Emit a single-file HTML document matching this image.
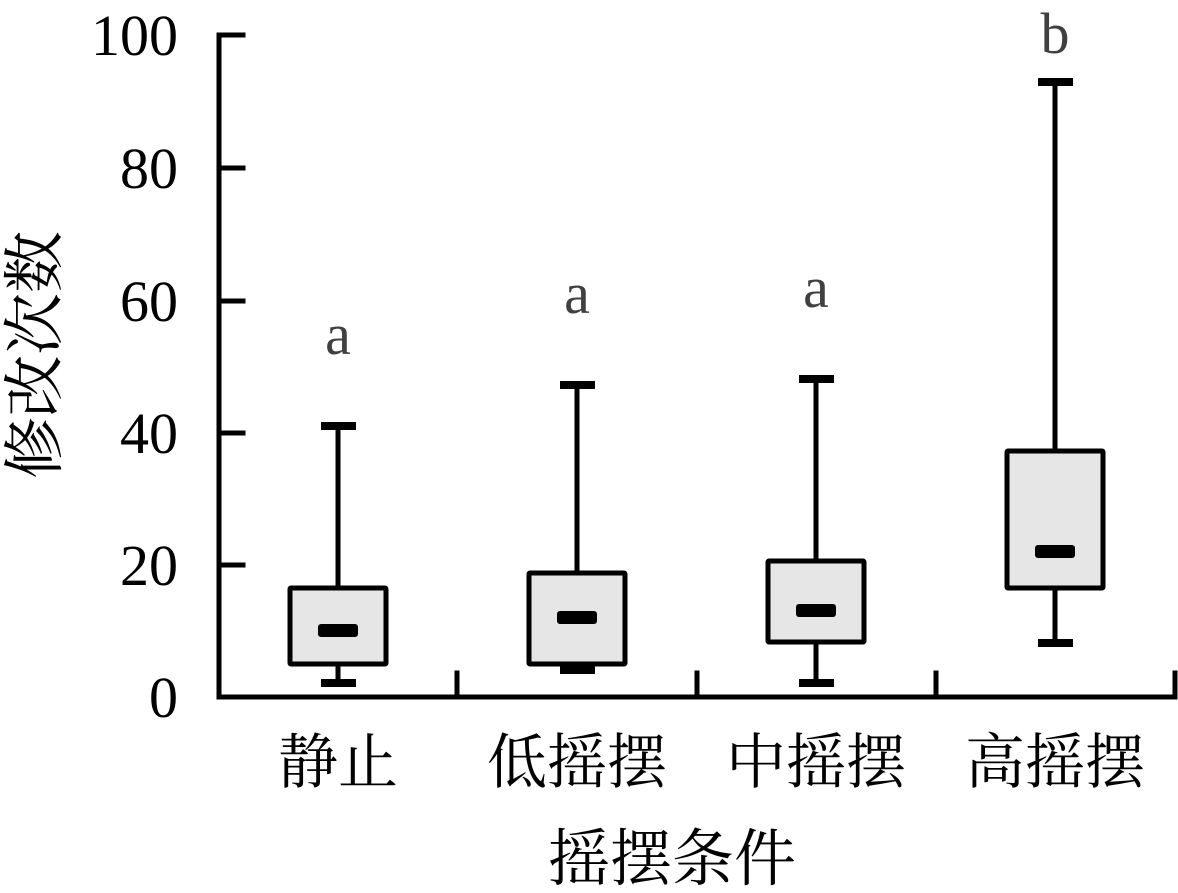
<!DOCTYPE html>
<html><head><meta charset="utf-8"><style>html,body{margin:0;padding:0;background:#fff}
.cjk{font-family:"Noto Serif CJK SC","Noto Serif CJK",serif}</style></head>
<body>
<svg width="1178" height="888" xmlns="http://www.w3.org/2000/svg">
<g stroke="#000" stroke-width="5" fill="none" stroke-linecap="square">
<path d="M219 35 V697 H1175"/>
<path d="M219 35 H243 M219 168 H243 M219 301 H243 M219 433 H243 M219 565 H243"/>
<path d="M457 673 V697 M697 673 V697 M936 673 V697 M1175 673 V697"/>
</g>
<g stroke="#000" stroke-width="5">
<line x1="338" y1="426" x2="338" y2="588"/><line x1="338" y1="664" x2="338" y2="683"/>
<line x1="577" y1="385" x2="577" y2="573"/><line x1="577" y1="664" x2="577" y2="670"/>
<line x1="816" y1="379" x2="816" y2="561"/><line x1="816" y1="642" x2="816" y2="683"/>
<line x1="1055" y1="82" x2="1055" y2="451"/><line x1="1055" y1="588" x2="1055" y2="643"/>
<g stroke-width="8">
<line x1="321" y1="426" x2="356" y2="426"/><line x1="321" y1="683" x2="356" y2="683"/>
<line x1="560" y1="385" x2="595" y2="385"/><line x1="560" y1="670" x2="595" y2="670"/>
<line x1="799" y1="379" x2="834" y2="379"/><line x1="799" y1="683" x2="834" y2="683"/>
<line x1="1038" y1="82" x2="1073" y2="82"/><line x1="1038" y1="643" x2="1073" y2="643"/>
</g>
<rect x="290" y="588" width="96" height="76" fill="#e6e6e6" rx="1"/>
<rect x="529" y="573" width="96" height="91" fill="#e6e6e6" rx="1"/>
<rect x="768" y="561" width="96" height="81" fill="#e6e6e6" rx="1"/>
<rect x="1007" y="451" width="96" height="137" fill="#e6e6e6" rx="1"/>
</g>
<g fill="#000">
<rect x="318" y="624" width="40" height="13" rx="3"/>
<rect x="557" y="611" width="40" height="13" rx="3"/>
<rect x="796" y="604" width="40" height="13" rx="3"/>
<rect x="1035" y="545" width="40" height="13" rx="3"/>
</g>
<g font-family="Liberation Serif, serif" font-size="58" text-anchor="end" fill="#000">
<text x="178" y="55">100</text><text x="178" y="188">80</text><text x="178" y="321">60</text>
<text x="178" y="453">40</text><text x="178" y="585">20</text><text x="178" y="717">0</text>
</g>
<g font-family="Liberation Serif, serif" font-size="58" text-anchor="middle" fill="#404040">
<text x="338" y="354">a</text><text x="577" y="313">a</text><text x="816" y="307">a</text><text x="1055" y="53">b</text>
</g>
<g class="cjk" font-size="60" text-anchor="middle" fill="#000">
<text x="338" y="783">静止</text><text x="577" y="783">低摇摆</text><text x="816" y="783">中摇摆</text><text x="1055" y="783">高摇摆</text>
<text x="672" y="880" font-size="62">摇摆条件</text>
<text transform="translate(56,355) rotate(-90)" font-size="62">修改次数</text>
</g>
</svg>
</body></html>
